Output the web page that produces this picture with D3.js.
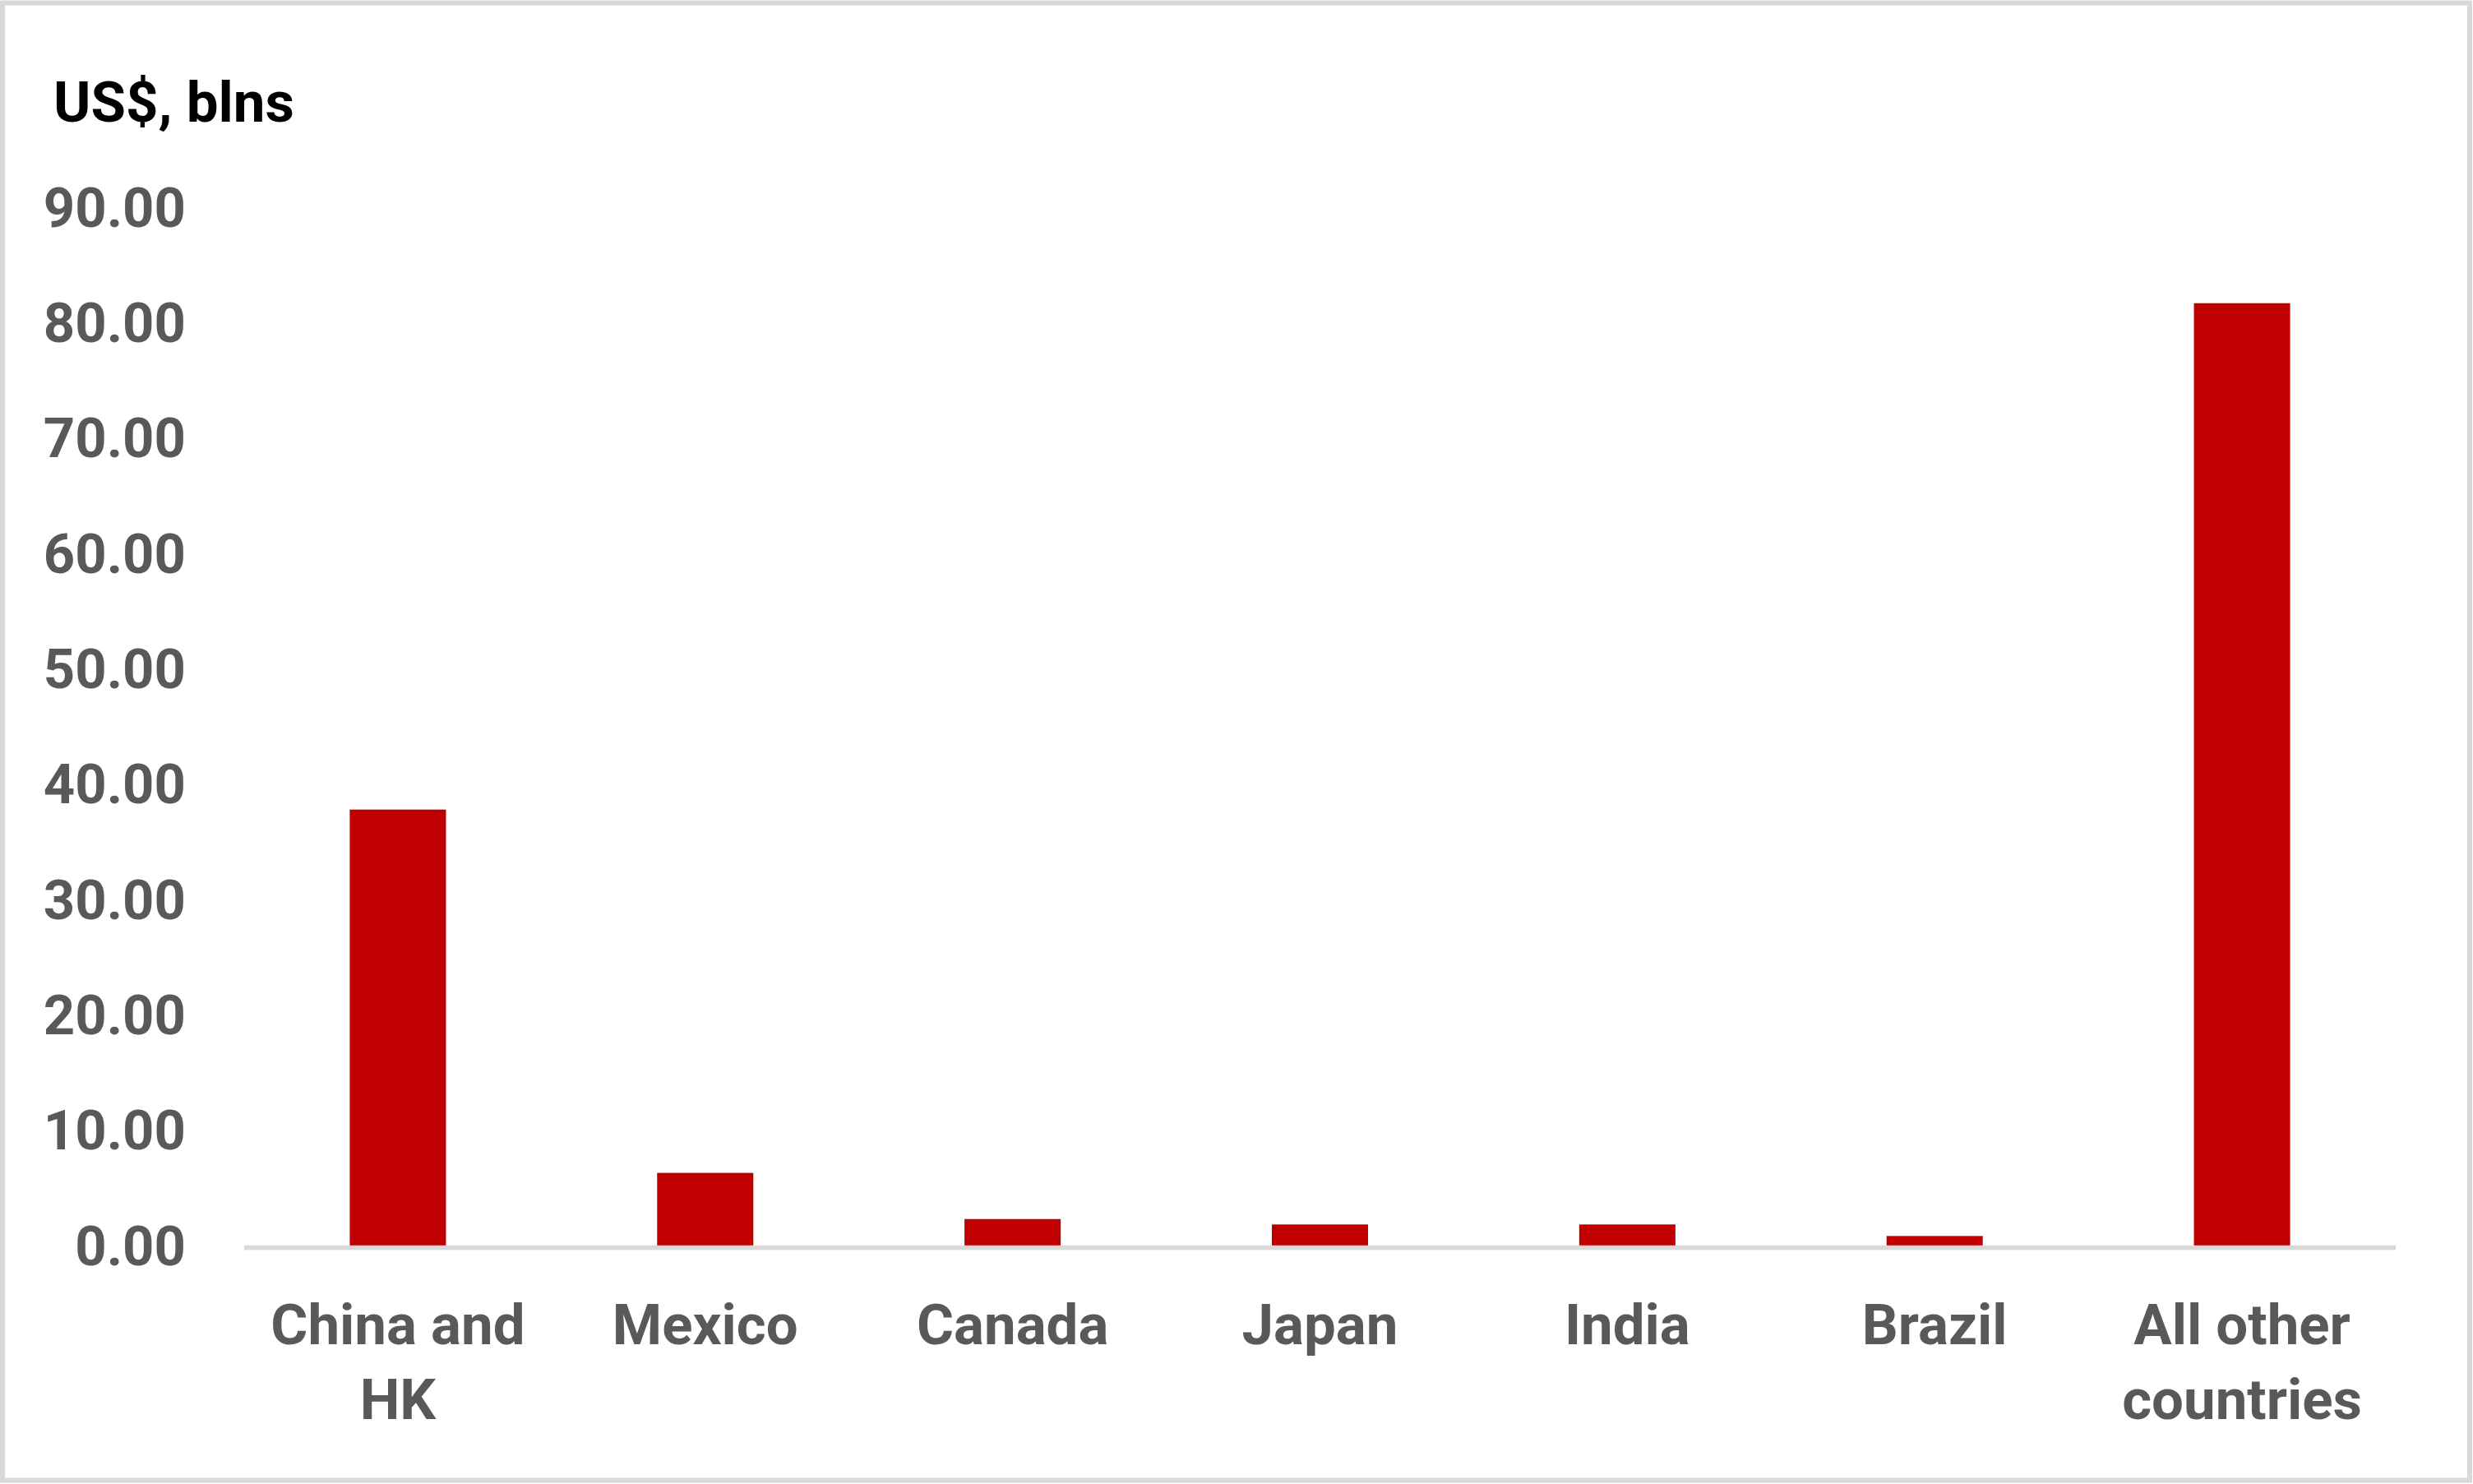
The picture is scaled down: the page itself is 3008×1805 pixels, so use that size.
<!DOCTYPE html>
<html>
<head>
<meta charset="utf-8">
<script src="https://cdn.jsdelivr.net/npm/d3@7"></script>
<style>
  html, body { margin: 0; padding: 0; background: #fff; }
  svg { display: block; }
</style>
</head>
<body>
<svg id="chart" width="3008" height="1805"></svg>
<script>
const categories = ["China and HK", "Mexico", "Canada", "Japan", "India", "Brazil", "All other countries"];
const categoryLines = [["China and", "HK"], ["Mexico"], ["Canada"], ["Japan"], ["India"], ["Brazil"], ["All other", "countries"]];
const values = [37.8, 6.3, 2.3, 1.83, 1.83, 0.83, 81.7];
const tickValues = [0, 10, 20, 30, 40, 50, 60, 70, 80, 90];
const unitLabel = "US$, blns";

const svg = d3.select("#chart");
const W = 3008, H = 1805;
const fontFamily = "Roboto, 'Noto Sans', sans-serif";

svg.append("rect").attr("x", 0).attr("y", 0).attr("width", W).attr("height", H).attr("fill", "#fff");
svg.append("rect")
  .attr("x", 3).attr("y", 3.5).attr("width", 3001).attr("height", 1797)
  .attr("fill", "none").attr("stroke", "#d9d9d9").attr("stroke-width", 6);

const x = d3.scaleBand()
  .domain(categories)
  .range([297, 2914])
  .paddingInner(0.687)
  .paddingOuter(0.3435);

const y = d3.scaleLinear().domain([0, 90]).range([1515, 252.3]);

// y axis labels
const yAxis = d3.axisLeft(y).tickValues(tickValues).tickFormat(d3.format(".2f")).tickSize(0).tickPadding(0);
const gy = svg.append("g").attr("transform", "translate(226,0)").call(yAxis);
gy.select(".domain").remove();
gy.selectAll("text")
  .attr("font-family", fontFamily)
  .attr("font-weight", 700)
  .attr("font-size", 67)
  .attr("fill", "#595959")
  .attr("dy", null)
  .attr("y", 23)
  .attr("text-anchor", "end");

// bars
svg.append("g").selectAll("rect")
  .data(values)
  .join("rect")
  .attr("x", (d, i) => x(categories[i]))
  .attr("width", x.bandwidth())
  .attr("y", d => y(d))
  .attr("height", d => y(0) - y(d))
  .attr("fill", "#c00000");

// x axis line
svg.append("line")
  .attr("x1", x.range()[0]).attr("x2", x.range()[1])
  .attr("y1", y(0) + 2.5).attr("y2", y(0) + 2.5)
  .attr("stroke", "#d9d9d9").attr("stroke-width", 5.5);

// category labels
const gx = svg.append("g");
categories.forEach((c, i) => {
  const t = gx.append("text")
    .attr("x", x(c) + x.bandwidth() / 2)
    .attr("y", 1635)
    .attr("text-anchor", "middle")
    .attr("font-family", fontFamily)
    .attr("font-weight", 700)
    .attr("font-size", 69)
    .attr("fill", "#595959");
  categoryLines[i].forEach((line, j) => {
    t.append("tspan")
      .attr("x", x(c) + x.bandwidth() / 2)
      .attr("dy", j === 0 ? 0 : 91)
      .text(line);
  });
});

// unit label
svg.append("text")
  .attr("x", 65).attr("y", 148)
  .attr("font-family", fontFamily)
  .attr("font-weight", 700)
  .attr("font-size", 69)
  .attr("fill", "#000")
  .text(unitLabel);
</script>
</body>
</html>
